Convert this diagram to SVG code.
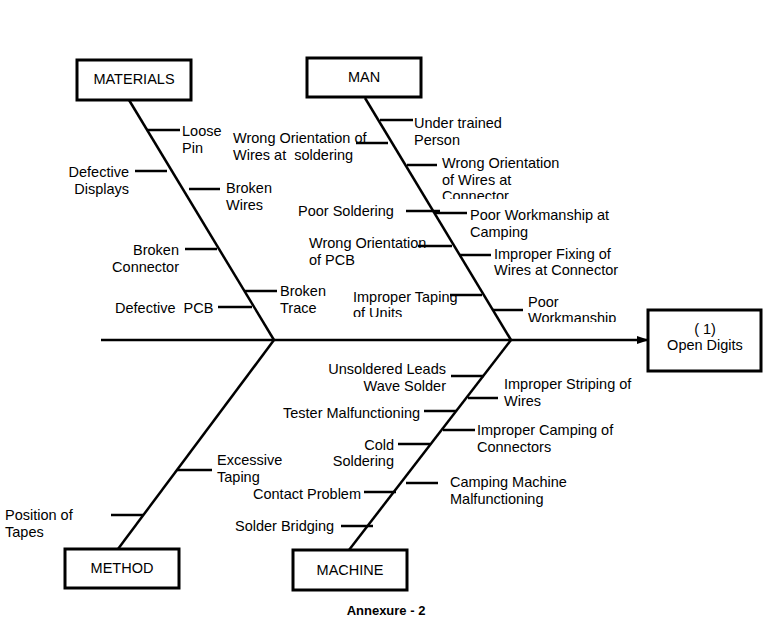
<svg xmlns="http://www.w3.org/2000/svg" width="779" height="620" viewBox="0 0 779 620">
<style>
.box{fill:#fff;stroke:#000;stroke-width:3}
.bone{stroke:#000;stroke-width:2.5;fill:none}
.tick{stroke:#000;stroke-width:2.5}
text{font-family:"Liberation Sans",Arial,sans-serif;font-size:14.5px;fill:#000}
.c{text-anchor:middle}
.r{text-anchor:end}
.cap{font-weight:bold;font-size:13px}
</style>
<defs>
<marker id="arr" markerWidth="12" markerHeight="8" refX="11" refY="4" orient="auto" markerUnits="userSpaceOnUse">
<path d="M0,0 L12,4 L0,8 z" fill="#000"/>
</marker>
<clipPath id="cl1"><rect x="430" y="150" width="150" height="49"/></clipPath>
<clipPath id="cl2"><rect x="340" y="285" width="150" height="32"/></clipPath>
<clipPath id="cl3"><rect x="520" y="290" width="120" height="32"/></clipPath>
</defs>
<g id="connectors">
<line class="bone" x1="101" y1="340" x2="648" y2="340" marker-end="url(#arr)"/>
<line class="bone" x1="129" y1="100" x2="274" y2="340"/>
<line class="bone" x1="365" y1="98" x2="511" y2="340"/>
<line class="bone" x1="274" y1="340" x2="118" y2="549"/>
<line class="bone" x1="511" y1="340" x2="349" y2="550"/>
<line class="tick" x1="147" y1="130" x2="180" y2="130"/>
<line class="tick" x1="135" y1="171" x2="167" y2="171"/>
<line class="tick" x1="189" y1="189" x2="220" y2="189"/>
<line class="tick" x1="185" y1="249" x2="217" y2="249"/>
<line class="tick" x1="245" y1="291" x2="277" y2="291"/>
<line class="tick" x1="218" y1="307" x2="252" y2="307"/>
<line class="tick" x1="380" y1="120" x2="413" y2="120"/>
<line class="tick" x1="356" y1="143" x2="388" y2="143"/>
<line class="tick" x1="407" y1="165" x2="437" y2="165"/>
<line class="tick" x1="406" y1="211" x2="440" y2="211"/>
<line class="tick" x1="435" y1="213" x2="467" y2="213"/>
<line class="tick" x1="418" y1="246" x2="452" y2="246"/>
<line class="tick" x1="459" y1="255" x2="491" y2="255"/>
<line class="tick" x1="450" y1="295" x2="482" y2="295"/>
<line class="tick" x1="493" y1="310" x2="523" y2="310"/>
<line class="tick" x1="451" y1="376" x2="484" y2="376"/>
<line class="tick" x1="468" y1="398" x2="498" y2="398"/>
<line class="tick" x1="424" y1="411" x2="456" y2="411"/>
<line class="tick" x1="443" y1="430" x2="475" y2="430"/>
<line class="tick" x1="398" y1="444" x2="430" y2="444"/>
<line class="tick" x1="406" y1="483" x2="438" y2="483"/>
<line class="tick" x1="364" y1="492" x2="396" y2="492"/>
<line class="tick" x1="341" y1="526" x2="373" y2="526"/>
<line class="tick" x1="177" y1="470" x2="212" y2="470"/>
<line class="tick" x1="111" y1="515" x2="143" y2="515"/>
</g>
<g id="materials"><rect class="box" x="77" y="60" width="114" height="40"/><text class="c" x="134" y="84">MATERIALS</text></g>
<g id="man"><rect class="box" x="307" y="58" width="114" height="39"/><text class="c" x="364" y="82">MAN</text></g>
<g id="method"><rect class="box" x="65" y="549" width="114" height="39"/><text class="c" x="122" y="573">METHOD</text></g>
<g id="machine"><rect class="box" x="293" y="550" width="114" height="40"/><text class="c" x="350" y="575">MACHINE</text></g>
<g id="effect"><rect class="box" x="648" y="310" width="113" height="61"/><text class="c" x="705" y="334">( 1)</text><text class="c" x="705" y="350">Open Digits</text></g>
<g id="causes">
<text x="182" y="136">Loose</text><text x="182" y="153">Pin</text>
<text class="r" x="129" y="177">Defective</text><text class="r" x="129" y="194">Displays</text>
<text x="226" y="193">Broken</text><text x="226" y="210">Wires</text>
<text class="r" x="179" y="255">Broken</text><text class="r" x="179" y="272">Connector</text>
<text x="280" y="296">Broken</text><text x="280" y="313">Trace</text>
<text x="115" y="313" xml:space="preserve">Defective  PCB</text>
<text x="414" y="128">Under trained</text><text x="414" y="145">Person</text>
<text x="233" y="143">Wrong Orientation of</text><text x="233" y="160" xml:space="preserve">Wires at  soldering</text>
<g clip-path="url(#cl1)"><text x="442" y="168">Wrong Orientation</text><text x="442" y="185">of Wires at</text><text x="442" y="201">Connector</text></g>
<text x="298" y="216">Poor Soldering</text>
<text x="470" y="220">Poor Workmanship at</text><text x="470" y="237">Camping</text>
<text x="309" y="248">Wrong Orientation</text><text x="309" y="265">of PCB</text>
<text x="494" y="259">Improper Fixing of</text><text x="494" y="275">Wires at Connector</text>
<g clip-path="url(#cl2)"><text x="353" y="302">Improper Taping</text><text x="353" y="318">of Units</text></g>
<g clip-path="url(#cl3)"><text x="528" y="307">Poor</text><text x="528" y="323">Workmanship</text></g>
<text class="r" x="446" y="374">Unsoldered Leads</text><text class="r" x="446" y="391">Wave Solder</text>
<text x="504" y="389">Improper Striping of</text><text x="504" y="406">Wires</text>
<text x="283" y="418">Tester Malfunctioning</text>
<text x="477" y="435">Improper Camping of</text><text x="477" y="452">Connectors</text>
<text class="r" x="394" y="450">Cold</text><text class="r" x="394" y="466">Soldering</text>
<text x="450" y="487">Camping Machine</text><text x="450" y="504">Malfunctioning</text>
<text x="253" y="499">Contact Problem</text>
<text x="235" y="531">Solder Bridging</text>
<text x="217" y="465">Excessive</text><text x="217" y="482">Taping</text>
<text x="5" y="520">Position of</text><text x="5" y="537">Tapes</text>
</g>
<text class="c cap" x="386" y="615">Annexure - 2</text>
</svg>
